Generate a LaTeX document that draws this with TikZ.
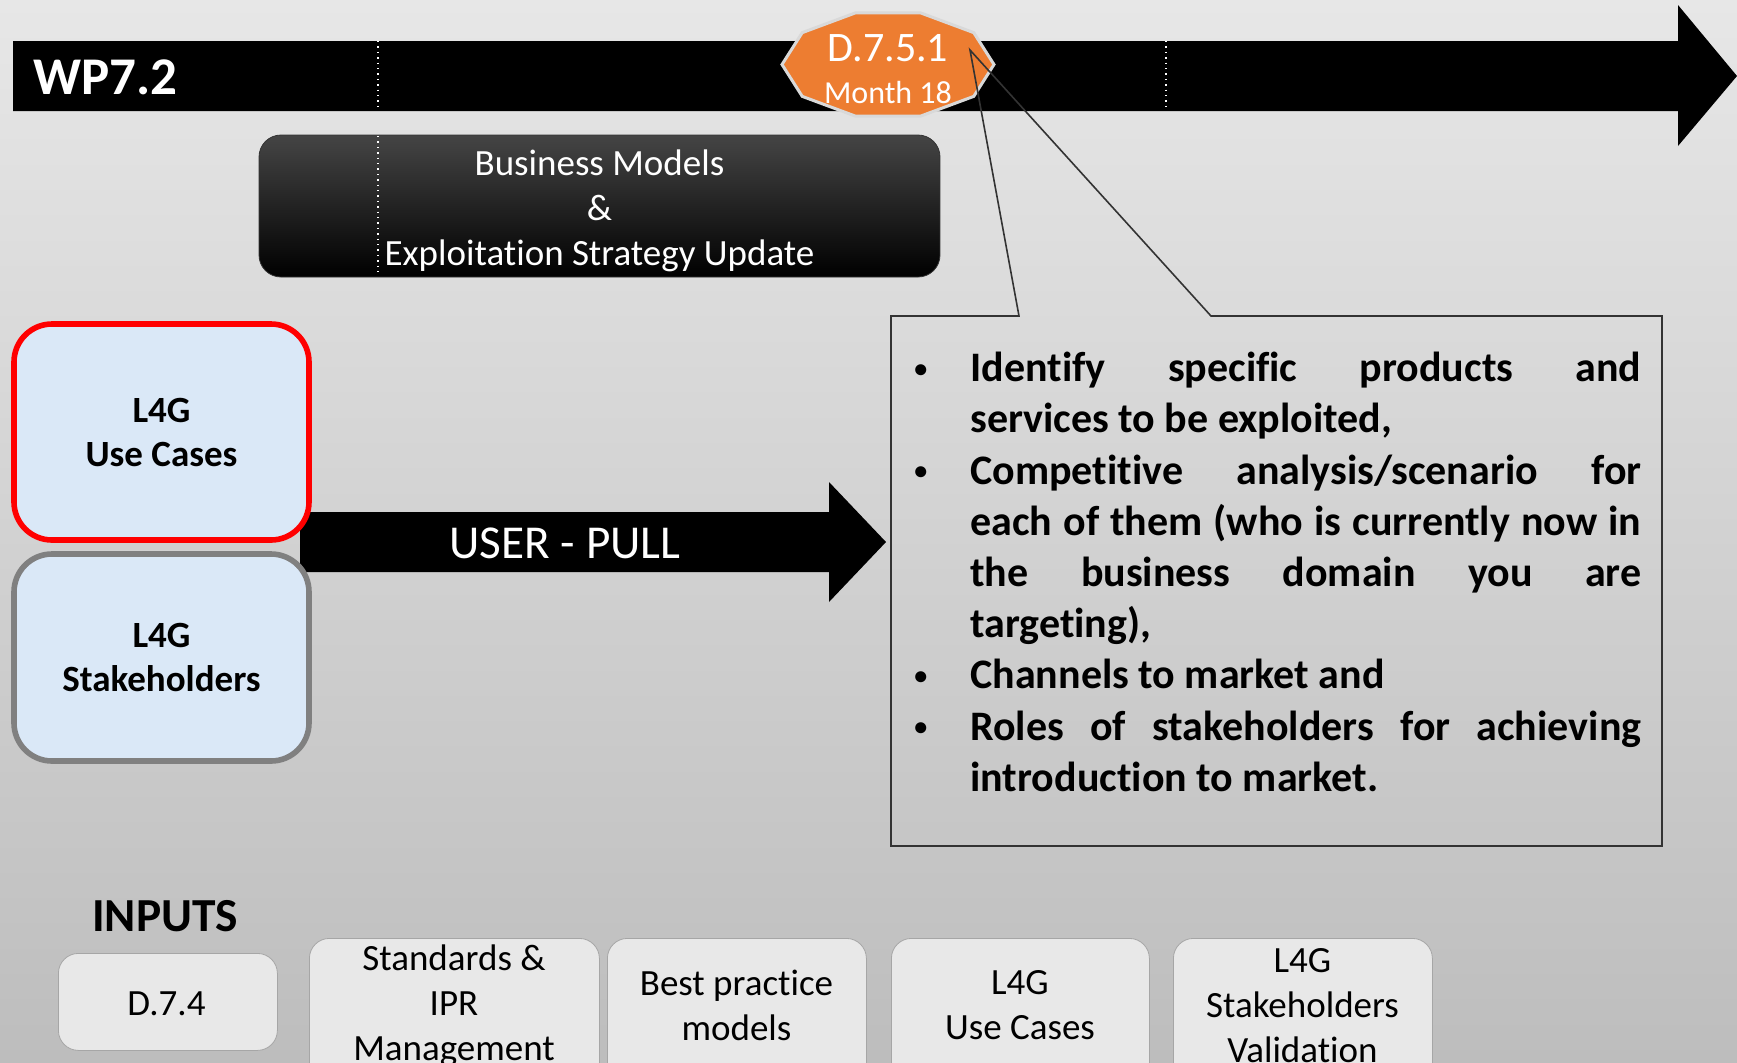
\documentclass[tikz,border=0pt]{standalone}
\usepackage{fontspec}
\setmainfont{Carlito}[Ligatures=NoCommon]
\definecolor{arancio}{HTML}{ED7D31}
\definecolor{azzurro}{HTML}{DAE8F7}
\definecolor{grigiochiaro}{HTML}{E8E8E8}
\definecolor{sfondoalto}{HTML}{E7E7E7}
\definecolor{sfondobasso}{HTML}{BDBDBD}
\newcommand{\punto}[1]{\par\noindent\hangindent=29pt\hangafter=1%
  \makebox[29pt][l]{\hspace{1pt}\raisebox{2.2pt}{\fontsize{13}{13}\selectfont\textbullet}}#1}

\begin{document}
\begin{tikzpicture}[x=0.5pt,y=-0.5pt,
  caso/.style={fill=azzurro,line width=2.8pt,rounded corners=19pt,minimum width=147.5pt,
    align=center,inner sep=0pt,font=\bfseries\fontsize{18.5}{22}\selectfont},
  ingresso/.style={draw=black!35,fill=grigiochiaro,rounded corners=10pt,inner sep=0pt,anchor=north west},
  voce/.style={align=center,inner sep=0pt,font=\fontsize{18.5}{22.5}\selectfont}]
\pgfmathsetmacro{\cx}{888} % centro decagono x
\pgfmathsetmacro{\cy}{64.5} % centro decagono y
\pgfmathsetmacro{\rx}{106} % semiasse orizzontale
\pgfmathsetmacro{\ry}{54.2} % semiasse verticale

\useasboundingbox (0,0) rectangle (1737,1062);
\clip (0,0) rectangle (1737,1062);
\shade[top color=sfondoalto,bottom color=sfondobasso] (0,0) rectangle (1737,1062); % sfondo

\fill (13,41) -- (1678,41) -- (1678,5) -- (1737,76) -- (1678,146) -- (1678,111) -- (13,111) -- cycle; % freccia WP
\node[anchor=west,text=white,inner sep=0pt,font=\bfseries\fontsize{26.5}{30}\selectfont] (wp) at (33,77) {WP7.2};
\node[draw=black!80,top color=black!73,middle color=black,bottom color=black,rounded corners=11pt,
  minimum width=340.5pt,minimum height=71pt,text=white,align=center,
  font=\fontsize{18.5}{22.5}\selectfont] (modelli) at (599.5,206) {}; % attivita
\node[text=white,align=center,inner sep=0pt,font=\fontsize{18.5}{22.5}\selectfont] (modtesto) at (599.5,210.5)
  {Business Models\\\&\\Exploitation Strategy Update};
\draw[white,dotted,line width=0.7pt] (378,41) -- (378,111) (378,136) -- (378,276) (1166,41) -- (1166,111); % tacche

% decagono della consegna
\filldraw[fill=arancio,draw=black!15,line width=1.5pt] (\cx+\rx,\cy)
  \foreach \k in {1,...,9} {-- ({\cx+\rx*cos(36*\k)},{\cy-\ry*sin(36*\k)})} -- cycle;
\node[text=white,inner sep=0pt,font=\fontsize{21}{24}\selectfont] (consegna) at (888,48) {D.7.5.1};
\node[text=white,inner sep=0pt,font=\fontsize{16}{19}\selectfont] (mese) at (888,92) {Month 18};

% fumetto
\coordinate (punta) at (970,50);
\draw[black!80,line width=0.8pt] (891,316) -- (1019,316) -- (punta) -- (1211,316) -- (1662,316)
  -- (1662,846) -- (891,846) -- cycle;
\node[anchor=north west,inner sep=0pt,text width=364.5pt,align=justify,
  font=\bfseries\fontsize{21}{25.6}\selectfont] (punti) at (912,330)
  {\punto{Identify specific products and\linebreak services to be exploited,}%
   \punto{Competitive analysis/scenario for\linebreak each of them (who is currently now in\linebreak
     the business domain you are\linebreak targeting),}%
   \punto{Channels to market and}%
   \punto{Roles of stakeholders for achieving\linebreak introduction to market.}\par};

\fill (300,512) -- (829,512) -- (829,482) -- (886,542) -- (829,602) -- (829,572) -- (300,572) -- cycle; % user pull
\node[text=white,inner sep=0pt,font=\fontsize{23.6}{27}\selectfont] (pull) at (565,543) {USER - PULL};
\node[caso,draw=black!50,minimum height=103.5pt] (attori) at (161.5,657.5) {L4G\\Stakeholders};
\node[caso,draw=red,minimum height=108pt] (casi) at (161.5,432) {L4G\\Use Cases};

% ingressi
\node[inner sep=0pt,font=\bfseries\fontsize{23.7}{27}\selectfont] (inputs) at (165,916) {INPUTS};
\node[ingresso,minimum width=109.5pt,minimum height=48.5pt] (in1) at (58,953) {};
\node[ingresso,minimum width=145pt,minimum height=80pt] (in2) at (309,938) {};
\node[ingresso,minimum width=129.5pt,minimum height=80pt] (in3) at (607,938) {};
\node[ingresso,minimum width=129pt,minimum height=80pt] (in4) at (891,938) {};
\node[ingresso,minimum width=129.5pt,minimum height=80pt] (in5) at (1173,938) {};
\node[voce] (t1) at (166.5,1004) {D.7.4};
\node[voce] (t2) at (454,1006) {Standards \&\\IPR\\Management};
\node[voce] (t3) at (736.5,1005) {Best practice\\models};
\node[voce] (t4) at (1020,1005) {L4G\\Use Cases};
\node[voce] (t5) at (1302.5,1006) {L4G\\Stakeholders\\Validation};
\end{tikzpicture}
\end{document}
